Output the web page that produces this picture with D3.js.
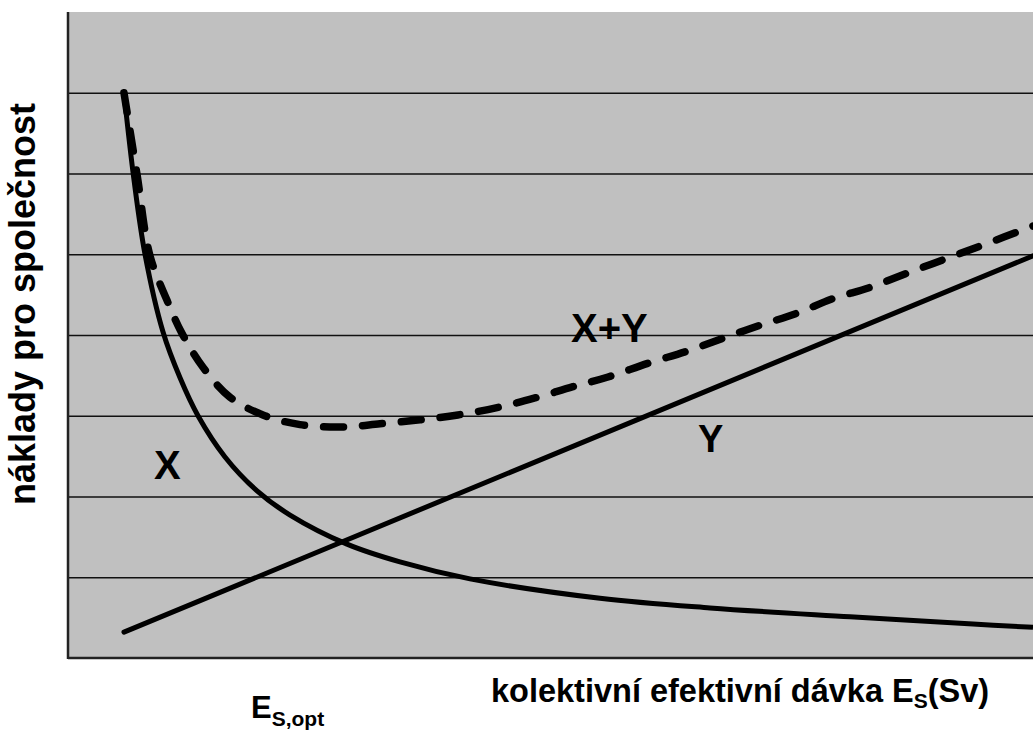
<!DOCTYPE html>
<html><head><meta charset="utf-8">
<script src="https://cdn.jsdelivr.net/npm/d3@7"></script>
<style>html,body{margin:0;padding:0;background:#fff;}svg{display:block;}</style>
</head><body>
<svg id="c" width="1033" height="731"></svg>
<script>
// Data (dose in relative units 0..100, cost in relative units 0..8)
const gridTicks = [1, 2, 3, 4, 5, 6, 7];
const xDose = [5.8, 6.84, 7.98, 9.84, 11.61, 13.47, 16.27, 19.59, 23.01, 28.91, 34.4, 41.66, 55.13, 66.53, 81.04, 93.78, 100];
const xCost = [7.0, 5.92, 5.0, 4.04, 3.47, 3.0, 2.49, 2.07, 1.77, 1.41, 1.19, 0.98, 0.74, 0.62, 0.51, 0.42, 0.38];
const yDose = [5.8, 100];
const yCost = [0.32, 4.98];
const sumDose = [5.8, 7.15, 8.5, 10.26, 11.81, 13.99, 16.79, 20.2, 24.04, 28.39, 32.33, 36.48, 40.41, 44.46, 48.39, 52.33, 55.96, 60.1, 64.15, 67.88, 71.71, 75.54, 79.27, 83.11, 87.05, 90.88, 94.72, 100];
const sumCost = [7.0, 5.99, 4.98, 4.43, 4.02, 3.60, 3.23, 3.01, 2.89, 2.86, 2.90, 2.95, 3.01, 3.10, 3.22, 3.36, 3.48, 3.65, 3.80, 3.96, 4.12, 4.27, 4.45, 4.59, 4.77, 4.94, 5.11, 5.35];

const svg = d3.select("#c");
const L = 68, T = 12, R = 1033, B = 658;
const x = d3.scaleLinear().domain([0, 100]).range([L, R]);
const y = d3.scaleLinear().domain([0, 8]).range([B, T]);
const font = "'Liberation Sans', Arial, sans-serif";

svg.append("rect").attr("x", L).attr("y", T).attr("width", R - L).attr("height", B - T).attr("fill", "#c0c0c0");

// gridlines via axis
const g = svg.append("g").attr("transform", `translate(${L},0)`)
  .call(d3.axisLeft(y).tickValues(gridTicks).tickSize(-(R - L)).tickFormat(""));
g.select(".domain").remove();
g.selectAll(".tick line").attr("stroke", "#111").attr("stroke-width", 1.6);

// axes lines
svg.append("line").attr("x1", L).attr("x2", L).attr("y1", T).attr("y2", B + 1).attr("stroke", "#222").attr("stroke-width", 2.5);
svg.append("line").attr("x1", L).attr("x2", R).attr("y1", B).attr("y2", B).attr("stroke", "#222").attr("stroke-width", 2.5);

const line = d3.line().x(d => x(d[0])).y(d => y(d[1])).curve(d3.curveCatmullRom.alpha(0.5));

svg.append("path").datum(xDose.map((d, i) => [d, xCost[i]])).attr("d", line)
  .attr("fill", "none").attr("stroke", "#000").attr("stroke-width", 5);
svg.append("path").datum(yDose.map((d, i) => [d, yCost[i]])).attr("d", line)
  .attr("fill", "none").attr("stroke", "#000").attr("stroke-width", 5).attr("stroke-linecap", "round");
svg.append("path").datum(sumDose.map((d, i) => [d, sumCost[i]])).attr("d", line)
  .attr("fill", "none").attr("stroke", "#000").attr("stroke-width", 7.5)
  .attr("stroke-linecap", "round").attr("stroke-dasharray", "20,19");

// labels in plot
function lbl(t, px, py, size) {
  svg.append("text").attr("x", px).attr("y", py).attr("font-family", font).attr("font-weight", "bold")
    .attr("font-size", size).attr("fill", "#000").text(t);
}
lbl("X", 154, 479, 40);
lbl("X+Y", 571, 342, 40);
lbl("Y", 698, 452, 38);

// y label
svg.append("text").attr("transform", "translate(35,304) rotate(-90)").attr("text-anchor", "middle")
  .attr("font-family", font).attr("font-weight", "bold").attr("font-size", 36).attr("fill", "#000")
  .text("náklady pro společnost");

// x label
const xl = svg.append("text").attr("x", 491).attr("y", 702).attr("font-family", font)
  .attr("font-weight", "bold").attr("font-size", 32.5).attr("fill", "#000");
xl.append("tspan").text("kolektivní efektivní dávka E");
xl.append("tspan").attr("font-size", 21).attr("dy", 6).text("S");
xl.append("tspan").attr("dy", -6).text("(Sv)");

const el = svg.append("text").attr("x", 251).attr("y", 718).attr("font-family", font)
  .attr("font-weight", "bold").attr("font-size", 31).attr("fill", "#000");
el.append("tspan").text("E");
el.append("tspan").attr("font-size", 21).attr("dy", 8).text("S,opt");
</script>
</body></html>
